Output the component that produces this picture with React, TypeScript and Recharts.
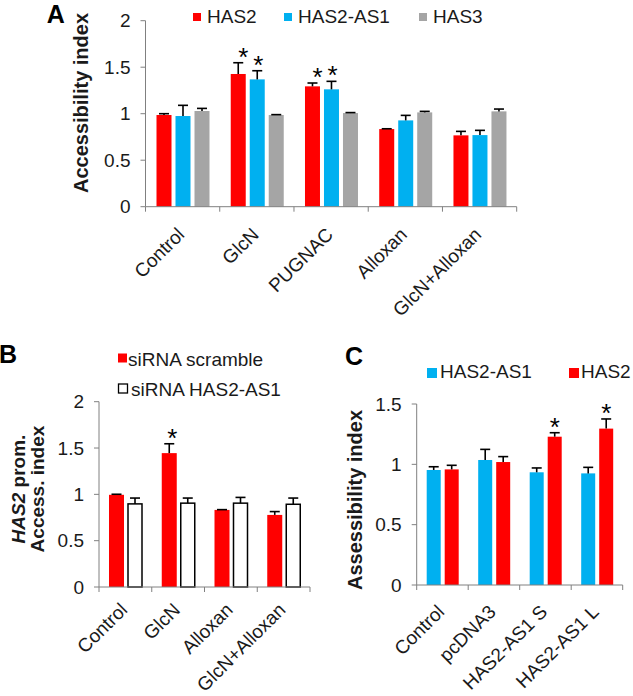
import React from "react";
import { BarChart, Bar, XAxis, YAxis, Legend } from "recharts";

const FONT = "'Liberation Sans', Arial, Helvetica, sans-serif";
const RED = "#ff0000";
const BLUE = "#00b0f0";
const GRAY = "#a5a5a5";
const AXIS = "#808080";
const INK = "#1a1a1a";

// panel A
const treatmentsA = ["Control", "GlcN", "PUGNAC", "Alloxan", "GlcN+Alloxan"];
const has2A = [0.986, 1.427, 1.294, 0.835, 0.767];
const has2ErrA = [0.014, 0.121, 0.036, 0.003, 0.043];
const has2StarA = [false, true, true, false, false];
const as1A = [0.975, 1.369, 1.262, 0.928, 0.77];
const as1ErrA = [0.115, 0.093, 0.086, 0.054, 0.051];
const as1StarA = [false, true, true, false, false];
const has3A = [1.029, 0.986, 1.007, 1.014, 1.025];
const has3ErrA = [0.028, 0.004, 0.005, 0.011, 0.025];

// panel B
const treatmentsB = ["Control", "GlcN", "Alloxan", "GlcN+Alloxan"];
const scrambleB = [0.995, 1.445, 0.832, 0.778];
const scrambleErrB = [0.006, 0.101, 0.003, 0.036];
const scrambleStarB = [false, true, false, false];
const siAs1B = [0.897, 0.905, 0.905, 0.893];
const siAs1ErrB = [0.063, 0.055, 0.062, 0.067];

// panel C
const constructsC = ["Control", "pcDNA3", "HAS2-AS1 S", "HAS2-AS1 L"];
const as1C = [0.953, 1.036, 0.934, 0.925];
const as1ErrC = [0.027, 0.088, 0.036, 0.05];
const has2C = [0.958, 1.019, 1.229, 1.296];
const has2ErrC = [0.034, 0.045, 0.033, 0.08];
const has2StarC = [false, false, true, true];

const ticksAB = [0, 0.5, 1, 1.5, 2];
const ticksC = [0, 0.5, 1, 1.5];

const dataA = treatmentsA.map((name, i) => ({
  name,
  has2: has2A[i], has2Err: has2ErrA[i], has2Star: has2StarA[i],
  as1: as1A[i], as1Err: as1ErrA[i], as1Star: as1StarA[i],
  has3: has3A[i], has3Err: has3ErrA[i],
}));

const dataB = treatmentsB.map((name, i) => ({
  name,
  scr: scrambleB[i], scrErr: scrambleErrB[i], scrStar: scrambleStarB[i],
  si: siAs1B[i], siErr: siAs1ErrB[i],
}));

const dataC = constructsC.map((name, i) => ({
  name,
  as1: as1C[i], as1Err: as1ErrC[i],
  has2: has2C[i], has2Err: has2ErrC[i], has2Star: has2StarC[i],
}));

// bar + one-sided error bar (+ optional significance star)
function makeShape(valueKey: string, errKey: string, starKey?: string, starDx = 0, outline?: string) {
  return (props: any) => {
    const { x, y, width, height, fill, payload } = props;
    const v = payload[valueKey];
    const unit = v ? height / v : 0;
    const top = y - payload[errKey] * unit;
    const cx = x + width / 2;
    return (
      <g>
        <rect
          x={x}
          y={y}
          width={width}
          height={height}
          fill={fill}
          stroke={outline || "none"}
          strokeWidth={outline ? 1.5 : 0}
        />
        <line x1={cx} x2={cx} y1={y} y2={top} stroke="#000" strokeWidth={1.6} />
        <line x1={cx - 5} x2={cx + 5} y1={top} y2={top} stroke="#000" strokeWidth={1.6} />
        {starKey && payload[starKey] ? (
          <text x={cx + starDx} y={top + 3} textAnchor="middle" fontSize={26} fontFamily={FONT} fill="#000">
            *
          </text>
        ) : null}
      </g>
    );
  };
}

// category label rotated -45, plus tick marks at the category edges
function makeCategoryTick(dy: number) {
  return (props: any) => {
    const { x, y, payload, index, visibleTicksCount } = props;
    const half = payload && payload.offset != null ? payload.offset : 0;
    const ax = x + 3;
    const ay = y + dy;
    return (
      <g>
        <line x1={x - half} x2={x - half} y1={y} y2={y + 5} stroke={AXIS} />
        {index === visibleTicksCount - 1 ? (
          <line x1={x + half} x2={x + half} y1={y} y2={y + 5} stroke={AXIS} />
        ) : null}
        <text
          x={ax}
          y={ay}
          textAnchor="end"
          transform={`rotate(-45 ${ax} ${ay})`}
          fontSize={19}
          fontFamily={FONT}
          fill={INK}
        >
          {payload.value}
        </text>
      </g>
    );
  };
}

const yTick = { fontSize: 19, fontFamily: FONT, fill: INK };

type Spot = { sx: number; sy: number; size: number; tx: number; ty: number };

// legend items are placed by series name
function legendContent(w: number, h: number, spots: Record<string, Spot>) {
  return (props: any) => {
    const items = props.payload || [];
    return (
      <svg width={w} height={h} style={{ display: "block" }}>
        {items.map((it: any, i: number) => {
          const s = spots[it.value];
          if (!s) return null;
          const white = String(it.color).toLowerCase() === "#ffffff";
          return (
            <g key={i}>
              <rect
                x={s.sx}
                y={s.sy}
                width={s.size}
                height={s.size}
                fill={it.color}
                stroke={white ? "#000" : "none"}
                strokeWidth={white ? 1.3 : 0}
              />
              <text x={s.tx} y={s.ty} fontSize={19} fontFamily={FONT} fill={INK}>
                {it.value}
              </text>
            </g>
          );
        })}
      </svg>
    );
  };
}

function PanelA() {
  return (
    <BarChart width={633} height={330} data={dataA} margin={{ top: 20.7, right: 116.3, bottom: 0, left: 0 }} barGap={4}>
      <XAxis
        dataKey="name"
        height={123.3}
        tickLine={false}
        tickSize={0}
        tickMargin={0}
        axisLine={{ stroke: AXIS }}
        interval={0}
        tick={makeCategoryTick(29)}
      />
      <YAxis
        width={145.5}
        domain={[0, 2]}
        ticks={ticksAB}
        interval={0}
        axisLine={{ stroke: AXIS }}
        tickLine={{ stroke: AXIS }}
        tickSize={5}
        tickMargin={10}
        tick={yTick}
      />
      <Legend
        layout="vertical"
        align="center"
        verticalAlign="middle"
        wrapperStyle={{ left: 0, top: 0, width: 633, height: 36 }}
        content={legendContent(633, 36, {
          HAS2: { sx: 193, sy: 13, size: 8, tx: 207, ty: 23.3 },
          "HAS2-AS1": { sx: 284, sy: 13, size: 8, tx: 298, ty: 23.3 },
          HAS3: { sx: 419, sy: 13, size: 8, tx: 433, ty: 23.3 },
        })}
      />
      <Bar dataKey="has2" name="HAS2" fill={RED} barSize={15} isAnimationActive={false} shape={makeShape("has2", "has2Err", "has2Star", 5)} />
      <Bar dataKey="as1" name="HAS2-AS1" fill={BLUE} barSize={15} isAnimationActive={false} shape={makeShape("as1", "as1Err", "as1Star", 1)} />
      <Bar dataKey="has3" name="HAS3" fill={GRAY} barSize={15} isAnimationActive={false} shape={makeShape("has3", "has3Err")} />
      <text x={46.7} y={23} fontSize={25} fontWeight="bold" fontFamily={FONT} fill="#000">A</text>
      <text x={88} y={103} transform="rotate(-90 88 103)" textAnchor="middle" fontSize={20} fontWeight="bold" fontFamily={FONT} fill={INK}>
        Accessibility index
      </text>
    </BarChart>
  );
}

function PanelB() {
  return (
    <BarChart width={320} height={356} data={dataB} margin={{ top: 61.7, right: 10, bottom: 0, left: 0 }} barGap={4}>
      <XAxis
        dataKey="name"
        height={109}
        tickLine={false}
        tickSize={0}
        tickMargin={0}
        axisLine={{ stroke: AXIS }}
        interval={0}
        tick={makeCategoryTick(24)}
      />
      <YAxis
        width={99}
        domain={[0, 2]}
        ticks={ticksAB}
        interval={0}
        axisLine={{ stroke: AXIS }}
        tickLine={{ stroke: AXIS }}
        tickSize={5}
        tickMargin={10}
        tick={yTick}
      />
      <Legend
        layout="vertical"
        align="center"
        verticalAlign="middle"
        wrapperStyle={{ left: 0, top: 0, width: 320, height: 62 }}
        content={legendContent(320, 62, {
          "siRNA scramble": { sx: 118, sy: 13.5, size: 9, tx: 128, ty: 25.5 },
          "siRNA HAS2-AS1": { sx: 118.5, sy: 44, size: 9, tx: 131, ty: 55.5 },
        })}
      />
      <Bar dataKey="scr" name="siRNA scramble" fill={RED} barSize={15} isAnimationActive={false} shape={makeShape("scr", "scrErr", "scrStar", 3)} />
      <Bar dataKey="si" name="siRNA HAS2-AS1" fill="#ffffff" barSize={14} isAnimationActive={false} shape={makeShape("si", "siErr", undefined, 0, "#000")} />
      <text x={-1} y={23.3} fontSize={25} fontWeight="bold" fontFamily={FONT} fill="#000">B</text>
      <text x={25} y={149} transform="rotate(-90 25 149)" textAnchor="middle" fontSize={19} fontWeight="bold" fontFamily={FONT} fill={INK}>
        <tspan fontStyle="italic">HAS2</tspan> prom.
      </text>
      <text x={43.5} y={149} transform="rotate(-90 43.5 149)" textAnchor="middle" fontSize={19} fontWeight="bold" fontFamily={FONT} fill={INK}>
        Access. index
      </text>
    </BarChart>
  );
}

function PanelC() {
  return (
    <BarChart width={313} height={356} data={dataC} margin={{ top: 64, right: 10.3, bottom: 0, left: 0 }} barGap={4}>
      <XAxis
        dataKey="name"
        height={111}
        tickLine={false}
        tickSize={0}
        tickMargin={0}
        axisLine={{ stroke: AXIS }}
        interval={0}
        tick={makeCategoryTick(28)}
      />
      <YAxis
        width={96.7}
        domain={[0, 1.5]}
        ticks={ticksC}
        interval={0}
        axisLine={{ stroke: AXIS }}
        tickLine={{ stroke: AXIS }}
        tickSize={5}
        tickMargin={10}
        tick={yTick}
      />
      <Legend
        layout="vertical"
        align="center"
        verticalAlign="middle"
        wrapperStyle={{ left: 0, top: 0, width: 313, height: 50 }}
        content={legendContent(313, 50, {
          "HAS2-AS1": { sx: 107, sy: 28, size: 10, tx: 120, ty: 38.3 },
          HAS2: { sx: 249, sy: 28, size: 10, tx: 261, ty: 38.3 },
        })}
      />
      <Bar dataKey="as1" name="HAS2-AS1" fill={BLUE} barSize={14} isAnimationActive={false} shape={makeShape("as1", "as1Err")} />
      <Bar dataKey="has2" name="HAS2" fill={RED} barSize={14} isAnimationActive={false} shape={makeShape("has2", "has2Err", "has2Star", 0)} />
      <text x={25} y={25} fontSize={25} fontWeight="bold" fontFamily={FONT} fill="#000">C</text>
      <text x={42} y={160} transform="rotate(-90 42 160)" textAnchor="middle" fontSize={20} fontWeight="bold" fontFamily={FONT} fill={INK}>
        Assessibility index
      </text>
    </BarChart>
  );
}

export default function App() {
  return (
    <div style={{ position: "absolute", left: 0, top: 0, width: 633, height: 696, background: "#fff", overflow: "hidden" }}>
      <div style={{ position: "absolute", left: 0, top: 0 }}>
        <PanelA />
      </div>
      <div style={{ position: "absolute", left: 0, top: 340 }}>
        <PanelB />
      </div>
      <div style={{ position: "absolute", left: 320, top: 340 }}>
        <PanelC />
      </div>
    </div>
  );
}
